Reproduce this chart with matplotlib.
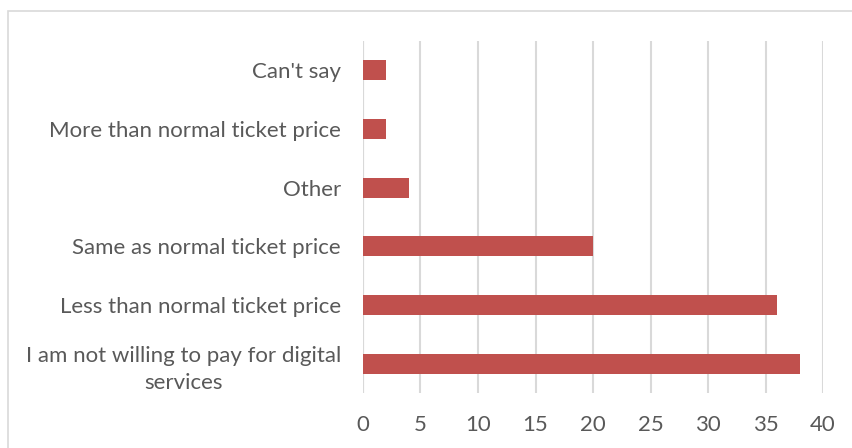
import matplotlib
matplotlib.use('Agg')
import matplotlib.pyplot as plt
from matplotlib.patches import Rectangle

categories = ["I am not willing to pay for digital\nservices",
              "Less than normal ticket price",
              "Same as normal ticket price",
              "Other",
              "More than normal ticket price",
              "Can't say"]
values = [38, 36, 20, 4, 2, 2]
xticks = [0, 5, 10, 15, 20, 25, 30, 35, 40]

text_col = '#595959'
grid_col = '#D9D9D9'
bar_col = '#C0504D'

plt.rcParams['font.family'] = ['Lato', 'DejaVu Sans']

fig = plt.figure(figsize=(8.53, 4.48), dpi=100)
ax = fig.add_axes([363/853, 1-393/448, 460/853, 352/448])

# chart area border
fig.patches.append(Rectangle((8/853, -0.1), 1.2, 1.1 - 11/448, transform=fig.transFigure,
                             fill=False, edgecolor=grid_col, linewidth=1.2))

y = range(len(categories))
ax.barh(y, values, height=0.34, color=bar_col, zorder=3)

ax.set_xlim(0, 40)
ax.set_ylim(-0.5, len(categories) - 0.5)
ax.set_xticks(xticks)
ax.set_yticks(list(y))
ax.set_yticklabels(categories, multialignment='center', linespacing=1.45)
ax.xaxis.grid(True, color=grid_col, linewidth=1.5, zorder=0)
ax.tick_params(axis='both', length=0, labelsize=16, colors=text_col)
ax.tick_params(axis='x', pad=16)
ax.tick_params(axis='y', pad=16)
for s in ax.spines.values():
    s.set_visible(False)
ax.axvline(0, color=grid_col, linewidth=1.5, zorder=1)

fig.savefig('out.png', dpi=100)
